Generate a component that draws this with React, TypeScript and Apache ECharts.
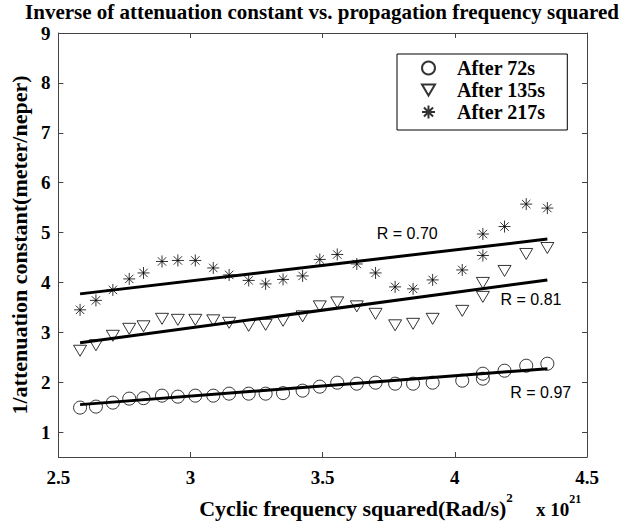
import React, { useEffect, useRef } from "react";
import * as echarts from "echarts";

const xValues = [2.582, 2.642, 2.706, 2.768, 2.822, 2.892, 2.952, 3.018, 3.086, 3.146, 3.22, 3.284, 3.35, 3.424, 3.489, 3.555, 3.629, 3.7, 3.774, 3.842, 3.916, 4.028, 4.106, 4.106, 4.188, 4.27, 4.35];
const after72 = [1.49, 1.51, 1.59, 1.67, 1.68, 1.73, 1.71, 1.73, 1.73, 1.77, 1.77, 1.77, 1.78, 1.83, 1.91, 1.99, 1.97, 1.99, 1.97, 1.97, 1.99, 2.03, 2.07, 2.17, 2.23, 2.33, 2.37];
const after135 = [2.63, 2.74, 2.93, 3.07, 3.12, 3.27, 3.25, 3.25, 3.24, 3.19, 3.13, 3.15, 3.23, 3.32, 3.52, 3.6, 3.52, 3.37, 3.14, 3.17, 3.27, 3.43, 3.71, 3.99, 4.23, 4.57, 4.69];
const after217 = [3.45, 3.64, 3.85, 4.07, 4.19, 4.42, 4.44, 4.44, 4.29, 4.15, 4.04, 3.97, 4.06, 4.13, 4.46, 4.56, 4.37, 4.19, 3.91, 3.87, 4.05, 4.25, 4.54, 4.97, 5.12, 5.57, 5.49];

const fitX = [2.582, 4.35];
const fit72 = [1.55, 2.27];
const fit135 = [2.79, 4.05];
const fit217 = [3.77, 4.87];

const rTexts = ["R = 0.70", "R = 0.81", "R = 0.97"];
const rX = [3.82, 4.288, 4.325];
const rY = [4.99, 3.66, 1.79];

const seriesNames = ["After 72s", "After 135s", "After 217s"];
const xTicks = [2.5, 3, 3.5, 4, 4.5];
const yTicks = [1, 2, 3, 4, 5, 6, 7, 8, 9];

const SERIF = "'Times New Roman', 'Liberation Serif', serif";
const SANS = "Arial, 'Liberation Sans', sans-serif";
const STAR = "path://M6 0V12M0 6H12M1.8 1.8L10.2 10.2M1.8 10.2L10.2 1.8";
const TRI_DOWN = "path://M0 0L13 0L6.5 11Z";

export default function App() {
  const ref = useRef<HTMLDivElement>(null);
  useEffect(() => {
    if (!ref.current) return;
    const chart = echarts.init(ref.current, null, { renderer: "svg" });
    const pts = (ys: number[]) => xValues.map((x, i) => [x, ys[i]]);
    const fit = (ys: number[]) => fitX.map((x, i) => [x, ys[i]]);
    const axisColor = "#444";
    const tickFont = { fontFamily: SERIF, fontWeight: "bold" as const, fontSize: 19, color: "#000" };
    const hollow = { color: "rgba(0,0,0,0)", borderColor: "#000", borderWidth: 1 };
    const option: any = {
      animation: false,
      backgroundColor: "#fff",
      grid: { left: 49, right: 38, top: 33, bottom: 64, containLabel: false },
      graphic: [
        {
          type: "text",
          x: 322,
          y: 1,
          style: {
            text: "Inverse of attenuation constant vs. propagation frequency squared",
            font: `bold 21px ${SERIF}`,
            fill: "#000",
            textAlign: "center",
            textVerticalAlign: "top",
          },
        },
        {
          type: "text",
          x: 356,
          y: 491,
          style: {
            text: "{a|Cyclic frequency squared(Rad/s)}{s|2}",
            fill: "#000",
            textAlign: "center",
            rich: {
              a: { fontFamily: SERIF, fontWeight: "bold", fontSize: 22, lineHeight: 28, verticalAlign: "bottom" },
              s: { fontFamily: SERIF, fontWeight: "bold", fontSize: 13, lineHeight: 28, verticalAlign: "top" },
            },
          },
        },
        {
          type: "text",
          x: 536,
          y: 493,
          style: {
            text: "{a|x 10}{s|21}",
            fill: "#000",
            rich: {
              a: { fontFamily: SERIF, fontWeight: "bold", fontSize: 19, lineHeight: 26, verticalAlign: "bottom" },
              s: { fontFamily: SERIF, fontWeight: "bold", fontSize: 12, lineHeight: 26, verticalAlign: "top" },
            },
          },
        },
      ],
      legend: {
        data: [
          { name: seriesNames[0] },
          { name: seriesNames[1], icon: TRI_DOWN },
          { name: seriesNames[2] },
        ],
        orient: "vertical",
        left: 397,
        top: 54,
        padding: [4, 22, 8, 24],
        itemWidth: 13,
        itemHeight: 13,
        itemGap: 2,
        borderColor: "#000",
        borderWidth: 1,
        backgroundColor: "#fff",
        selectedMode: false,
        textStyle: {
          fontFamily: SERIF,
          fontWeight: "bold",
          fontSize: 20,
          color: "#000",
          lineHeight: 20,
          padding: [0, 0, 0, 17],
        },
      },
      xAxis: [
        {
          type: "value",
          min: xTicks[0],
          max: xTicks[xTicks.length - 1],
          interval: 0.5,
          position: "bottom",
          axisLine: { show: true, lineStyle: { color: axisColor, width: 1 } },
          axisTick: { show: true, inside: true, length: 5, lineStyle: { color: axisColor } },
          axisLabel: { ...tickFont, margin: 11, formatter: (v: number) => String(v) },
          splitLine: { show: false },
        },
        {
          type: "value",
          min: xTicks[0],
          max: xTicks[xTicks.length - 1],
          interval: 0.5,
          position: "top",
          axisLine: { show: true, lineStyle: { color: axisColor, width: 1 } },
          axisTick: { show: true, inside: true, length: 5, lineStyle: { color: axisColor } },
          axisLabel: { show: false },
          splitLine: { show: false },
        },
      ],
      yAxis: [
        {
          type: "value",
          min: 0.5,
          max: 9,
          position: "left",
          axisLine: { show: true, lineStyle: { color: axisColor, width: 1 } },
          axisTick: { show: true, inside: true, length: 5, customValues: yTicks, lineStyle: { color: axisColor } },
          axisLabel: { ...tickFont, margin: 8, customValues: yTicks },
          splitLine: { show: false },
          name: "1/attenuation constant(meter/neper)",
          nameLocation: "middle",
          nameGap: 22,
          nameRotate: 90,
          nameTextStyle: { fontFamily: SERIF, fontWeight: "bold", fontSize: 22, color: "#000" },
        },
        {
          type: "value",
          min: 0.5,
          max: 9,
          position: "right",
          axisLine: { show: true, lineStyle: { color: axisColor, width: 1 } },
          axisTick: { show: true, inside: true, length: 5, customValues: yTicks, lineStyle: { color: axisColor } },
          axisLabel: { show: false },
          splitLine: { show: false },
        },
      ],
      series: [
        {
          name: seriesNames[0],
          type: "scatter",
          data: pts(after72),
          symbol: "circle",
          symbolSize: 13,
          itemStyle: hollow,
          z: 2,
        },
        {
          name: seriesNames[1],
          type: "scatter",
          data: pts(after135),
          symbol: TRI_DOWN,
          symbolKeepAspect: true,
          symbolSize: 13,
          itemStyle: hollow,
          z: 2,
        },
        {
          name: seriesNames[2],
          type: "scatter",
          data: pts(after217),
          symbol: STAR,
          symbolSize: 12,
          itemStyle: hollow,
          z: 2,
        },
        ...[fit72, fit135, fit217].map((f, k) => ({
          name: "fit" + k,
          type: "line",
          data: fit(f),
          showSymbol: false,
          symbol: "none",
          lineStyle: { color: "#000", width: 3 },
          z: 3,
          markPoint:
            k === 0
              ? {
                  symbol: "circle",
                  symbolSize: 1,
                  itemStyle: { color: "rgba(0,0,0,0)" },
                  label: {
                    show: true,
                    position: "inside",
                    fontFamily: SANS,
                    fontSize: 16,
                    color: "#000",
                    formatter: (p: any) => p.name,
                  },
                  data: rTexts.map((t, i) => ({ name: t, coord: [rX[i], rY[i]] })),
                }
              : undefined,
        })),
      ],
    };
    chart.setOption(option);
    return () => chart.dispose();
  }, []);
  return <div ref={ref} style={{ position: "fixed", left: 0, top: 0, width: 625, height: 521 }} />;
}
